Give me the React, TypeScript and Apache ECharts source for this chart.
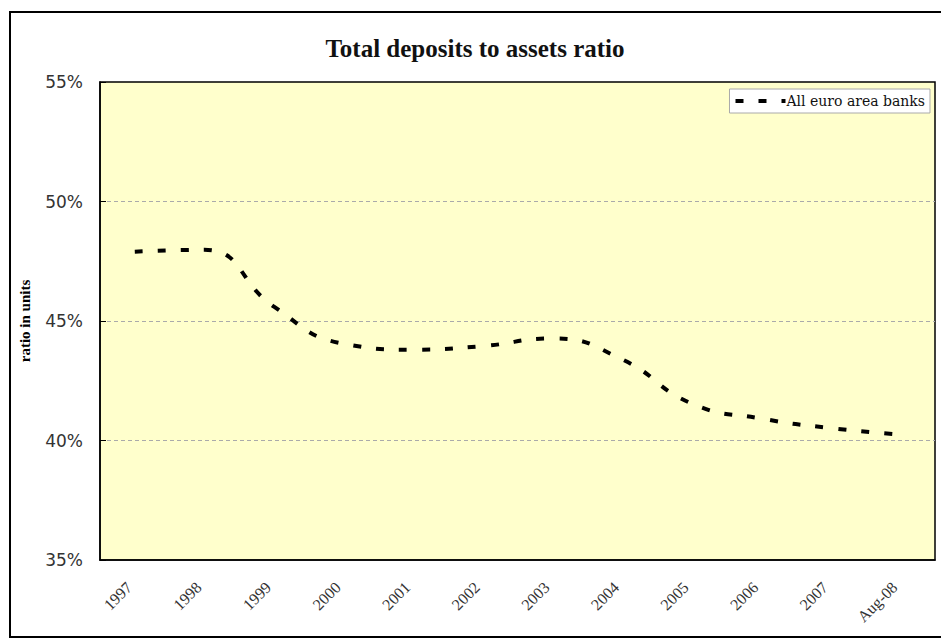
import React, { useEffect, useRef } from "react";
import * as echarts from "echarts";

const categories = ["1997", "1998", "1999", "2000", "2001", "2002", "2003", "2004", "2005", "2006", "2007", "Aug-08"];
const depositsRatio = [47.9, 47.98, 45.6, 44.05, 43.8, 43.95, 44.27, 43.4, 41.55, 40.92, 40.52, 40.25];
const seriesName = "All euro area banks";
const yTicks = { min: 35, max: 55, interval: 5 };

export default function App() {
  const ref = useRef<HTMLDivElement>(null);
  useEffect(() => {
    if (!ref.current) return;
    const chart = echarts.init(ref.current, null, { renderer: "svg" });
    const serif = "'Liberation Serif', 'Times New Roman', serif";
    chart.setOption({
      animation: false,
      backgroundColor: "#ffffff",
      title: {
        text: "Total deposits to assets ratio",
        left: 470,
        top: 31,
        textAlign: "center",
        textStyle: { fontFamily: serif, fontSize: 25, fontWeight: "bold", color: "#111" },
      },
      legend: {
        right: 11,
        top: 89,
        data: [seriesName],
        itemWidth: 50,
        itemHeight: 12,
        backgroundColor: "#ffffff",
        borderColor: "#aaa",
        borderWidth: 1,
        padding: [5, 5, 5, 4],
        borderRadius: 0,
        itemStyle: { opacity: 0 },
        lineStyle: { color: "#000", width: 4, type: [8, 15], cap: "butt", opacity: 1 },
        textStyle: { fontFamily: "'DejaVu Serif', serif", fontSize: 14, color: "#111", padding: [0, 0, 0, -4] },
      },
      grid: {
        left: 100,
        right: 6,
        top: 82,
        bottom: 81,
        show: true,
        backgroundColor: "#FFFFCC",
        borderColor: "#000",
        borderWidth: 1.5,
      },
      xAxis: {
        type: "category",
        data: categories,
        boundaryGap: true,
        axisLine: { lineStyle: { color: "#000", width: 1.5 } },
        axisTick: { inside: true, length: 4, lineStyle: { color: "#000" } },
        axisLabel: {
          rotate: 45,
          fontFamily: serif,
          fontSize: 16,
          color: "#333",
          margin: 19,
          padding: [0, 8, 0, 0],
          interval: 0,
        },
      },
      yAxis: {
        type: "value",
        min: yTicks.min,
        max: yTicks.max,
        interval: yTicks.interval,
        name: "ratio in units",
        nameLocation: "middle",
        nameGap: 68,
        nameTextStyle: { fontFamily: serif, fontSize: 15, fontWeight: "bold", color: "#000" },
        axisLine: { show: true, lineStyle: { color: "#000", width: 1.5 } },
        axisTick: { show: true, inside: true, length: 6, lineStyle: { color: "#000" } },
        axisLabel: {
          formatter: (v: number) => `${v}%`,
          fontFamily: "'DejaVu Sans', sans-serif",
          fontSize: 17,
          color: "#333",
          margin: 17,
        },
        splitLine: {
          show: true,
          showMinLine: false,
          showMaxLine: false,
          lineStyle: { color: "#aaaaaa", type: [4, 3], width: 1 },
        },
      },
      series: [
        {
          name: seriesName,
          type: "line",
          data: depositsRatio,
          smooth: 0.5,
          symbol: "none",
          showSymbol: false,
          lineStyle: { color: "#000", width: 4, type: [8, 15], cap: "butt" },
          itemStyle: { color: "#000" },
        },
      ],
      graphic: [
        {
          type: "rect",
          shape: { x: 10, y: 12, width: 945, height: 625 },
          style: { fill: "none", stroke: "#000", lineWidth: 2 },
          silent: true,
        },
      ],
    });
    return () => chart.dispose();
  }, []);
  return (
    <div
      ref={ref}
      style={{ position: "fixed", left: 0, top: 0, width: 941, height: 641 }}
    />
  );
}
